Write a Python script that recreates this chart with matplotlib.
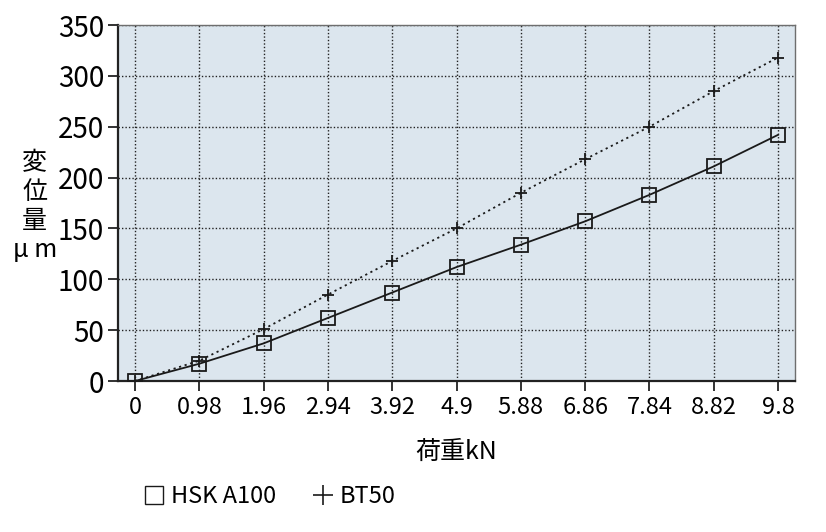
import matplotlib
matplotlib.use("Agg")
import matplotlib.pyplot as plt
from matplotlib.lines import Line2D

# --- data ---
loads = [0, 0.98, 1.96, 2.94, 3.92, 4.9, 5.88, 6.86, 7.84, 8.82, 9.8]
load_labels = ["0", "0.98", "1.96", "2.94", "3.92", "4.9", "5.88", "6.86", "7.84", "8.82", "9.8"]
hsk_a100 = [0, 17, 37, 62, 87, 112, 134, 157, 183, 211, 242]
bt50 = [0, 20, 51, 85, 118, 150, 185, 218, 250, 285, 318]
y_ticks = [0, 50, 100, 150, 200, 250, 300, 350]

plt.rcParams["font.family"] = ["Noto Sans CJK JP", "DejaVu Sans"]

fig = plt.figure(figsize=(8.26, 5.32), dpi=100)
ax = fig.add_axes([0.1429, 0.2838, 0.8196, 0.6692])
ax.set_facecolor("#dce6ee")

ax.plot(loads, hsk_a100, color="#1a1a1a", lw=1.3, marker="s", ms=9.5,
        mfc="none", mec="#1a1a1a", mew=1.3, zorder=3)
ax.plot(loads, bt50, color="#1a1a1a", lw=1.3, ls=(0, (1.2, 2.0)), marker="+",
        ms=8, mew=1.3, zorder=3)

step = 0.98
ax.set_xlim(-0.264 * step, 9.8 + 0.264 * step)
ax.set_ylim(0, 350)
ax.set_xticks(loads)
ax.set_xticklabels(load_labels)
ax.set_yticks(y_ticks)

ax.grid(True, color="#222222", lw=1.0, ls=(0, (1, 1.5)))
ax.set_axisbelow(True)

for side in ["left", "bottom"]:
    ax.spines[side].set_color("#222222")
    ax.spines[side].set_linewidth(1.6)
for side in ["top", "right"]:
    ax.spines[side].set_color("#6e6e6e")
    ax.spines[side].set_linewidth(1.0)

ax.tick_params(axis="both", direction="out", length=7, width=1.3, color="#222222")
ax.tick_params(axis="y", labelsize=20, pad=3)
ax.tick_params(axis="x", labelsize=17, pad=4)

fig.text(0.552, 0.150, "荷重kN", ha="center", va="center", fontsize=18)
fig.text(0.042, 0.612, "変\n位\n量\nμ m", ha="center", va="center",
         fontsize=18, linespacing=1.15, multialignment="center")

handles = [
    Line2D([], [], ls="none", marker="s", ms=13, mfc="none", mec="#1a1a1a", mew=1.0),
    Line2D([], [], ls="none", marker="+", ms=14, mec="#1a1a1a", mew=1.2),
]
fig.legend(handles, ["HSK A100", "BT50"], loc="center", bbox_to_anchor=(0.327, 0.066),
           ncol=2, frameon=False, fontsize=17, handlelength=0.8, handletextpad=0.3,
           columnspacing=1.6)

fig.savefig("out.png", dpi=100)
